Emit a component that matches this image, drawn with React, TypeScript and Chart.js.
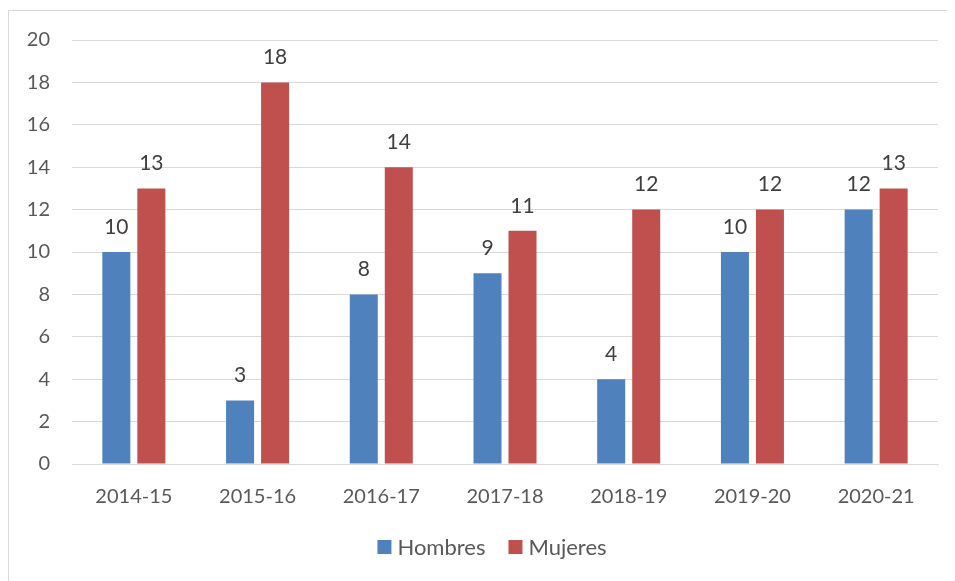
import React, { useEffect, useRef } from "react";
import { Chart, registerables } from "chart.js";

Chart.register(...registerables);

const categories = ["2014-15", "2015-16", "2016-17", "2017-18", "2018-19", "2019-20", "2020-21"];
const hombres = [10, 3, 8, 9, 4, 10, 12];
const mujeres = [13, 18, 14, 11, 12, 12, 13];
const yTicks = [0, 2, 4, 6, 8, 10, 12, 14, 16, 18, 20];

const FONT = "Lato";

const valueLabels = {
  id: "valueLabels",
  afterDatasetsDraw(chart: any) {
    const ctx = chart.ctx;
    ctx.save();
    ctx.font = `21px ${FONT}`;
    ctx.fillStyle = "#404040";
    ctx.textAlign = "center";
    ctx.textBaseline = "middle";
    chart.data.datasets.forEach((ds: any, i: number) => {
      const meta = chart.getDatasetMeta(i);
      meta.data.forEach((bar: any, j: number) => {
        ctx.fillText(String(ds.data[j]), bar.x, bar.y - 25);
      });
    });
    ctx.restore();
  },
};

const bottomLegend = {
  id: "bottomLegend",
  afterDraw(chart: any) {
    const ctx = chart.ctx;
    ctx.save();
    ctx.font = `22px ${FONT}`;
    const box = 14;
    const gapText = 6;
    const gapItem = 23;
    const items = chart.data.datasets.map((ds: any) => ({
      label: ds.label,
      color: ds.backgroundColor,
      w: ctx.measureText(ds.label).width,
    }));
    const total = items.reduce((a: number, it: any) => a + box + gapText + it.w, 0) + gapItem * (items.length - 1);
    let x = chart.width / 2 + 13 - total / 2;
    const cy = 537;
    ctx.textBaseline = "middle";
    ctx.textAlign = "left";
    items.forEach((it: any) => {
      ctx.fillStyle = it.color;
      ctx.fillRect(x, cy - box / 2 - 1, box, box);
      x += box + gapText;
      ctx.fillStyle = "#595959";
      ctx.fillText(it.label, x, cy);
      x += it.w + gapItem;
    });
    ctx.restore();
  },
};

export default function App() {
  const ref = useRef<HTMLCanvasElement>(null);
  useEffect(() => {
    const chart = new Chart(ref.current!, {
      type: "bar",
      data: {
        labels: categories,
        datasets: [
          { label: "Hombres", data: hombres, backgroundColor: "#4F81BD", categoryPercentage: 0.566, barPercentage: 0.8 },
          { label: "Mujeres", data: mujeres, backgroundColor: "#C0504D", categoryPercentage: 0.566, barPercentage: 0.8 },
        ],
      },
      options: {
        animation: false,
        responsive: false,
        maintainAspectRatio: false,
        layout: { padding: { top: 29, right: 11, bottom: 57, left: 0 } },
        plugins: {
          legend: { display: false },
          tooltip: { enabled: false },
        },
        scales: {
          x: {
            grid: { display: false, drawTicks: false },
            border: { color: "#d9d9d9", width: 1 },
            ticks: { font: { family: FONT, size: 20 }, color: "#595959", padding: 21 },
            afterFit: (s: any) => { s.height = 60; },
          },
          y: {
            min: 0,
            max: 20,
            afterBuildTicks: (s: any) => { s.ticks = yTicks.map((v) => ({ value: v })); },
            grid: { color: "#d9d9d9", drawTicks: false, lineWidth: 1 },
            border: { display: false },
            ticks: { font: { family: FONT, size: 20 }, color: "#595959", padding: 22 },
            afterFit: (s: any) => { s.width = 63; s.paddingTop = 0; s.paddingBottom = 0; },
          },
        },
      },
      plugins: [valueLabels, bottomLegend],
    });
    return () => chart.destroy();
  }, []);
  return (
    <div style={{ position: "relative", top: 2, width: 942, height: 600, border: "1px solid #d9d9d9", boxSizing: "border-box" }}>
      <canvas ref={ref} width={940} height={570} style={{ display: "block" }} />
    </div>
  );
}
